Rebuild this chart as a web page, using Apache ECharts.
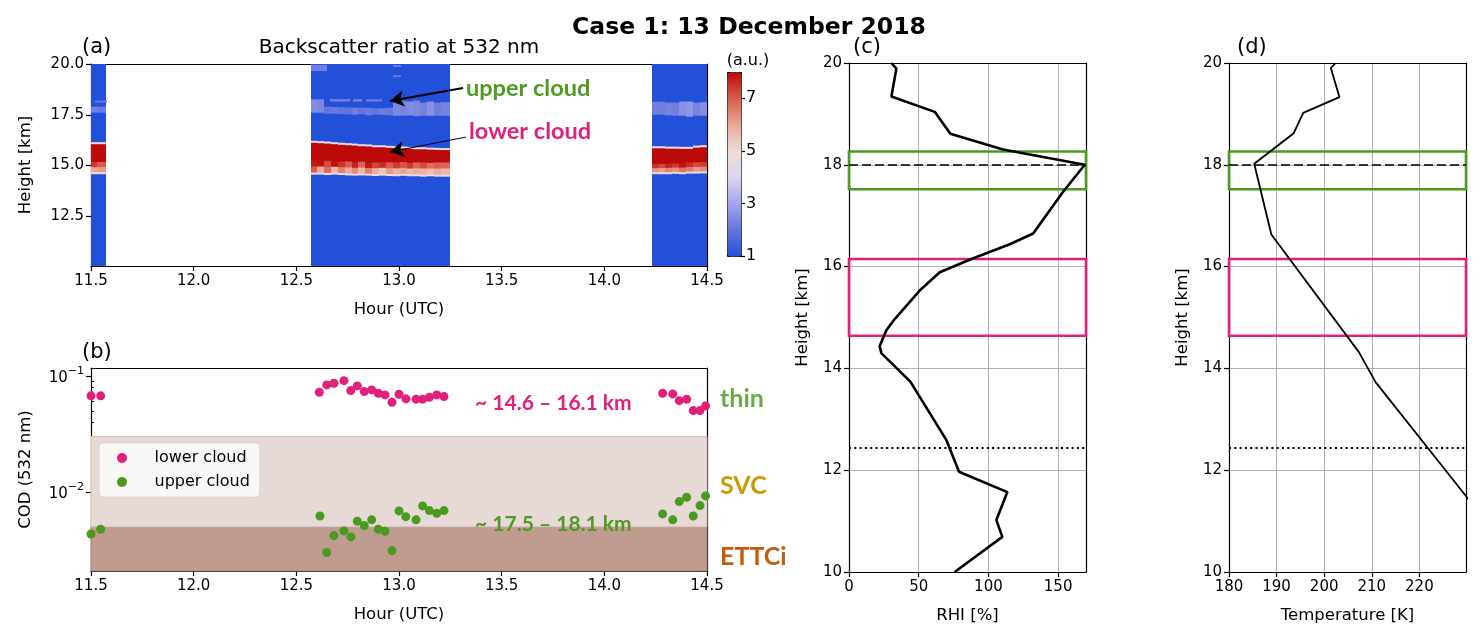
<!DOCTYPE html>
<html>
<head>
<meta charset="utf-8">
<title>Case 1: 13 December 2018</title>
<script src="https://cdn.jsdelivr.net/npm/echarts@6.0.0/dist/echarts.min.js"></script>
<style>
  html, body { margin: 0; padding: 0; background: #fff; }
  #chart { width: 1483px; height: 640px; }
</style>
</head>
<body>
<div id="chart"></div>
<script>
// ---------- (a) lidar backscatter ratio, one 2-min column per entry ----------
const lidarTimes = [
  11.500, 11.533,
  12.572, 12.605, 12.639, 12.672, 12.705, 12.739, 12.772, 12.805, 12.839, 12.872,
  12.905, 12.939, 12.972, 13.005, 13.039, 13.072, 13.105, 13.139, 13.172, 13.205,
  14.233, 14.267, 14.300, 14.333, 14.367, 14.400, 14.433, 14.467
];
const lowerTop = [
  16.15, 16.15,
  16.22, 16.2, 16.18, 16.15, 16.12, 16.1, 16.08, 16.05, 16.04, 16.0,
  16.0, 15.97, 15.95, 15.94, 15.92, 15.9, 15.9, 15.88, 15.87, 15.86,
  15.95, 15.95, 15.93, 15.93, 15.92, 15.92, 15.98, 16.0
];
const lowerCoreBase = [
  15.22, 15.22,
  15.3, 15.3, 15.28, 15.27, 15.25, 15.25, 15.22, 15.24, 15.2, 15.2,
  15.22, 15.2, 15.2, 15.22, 15.18, 15.2, 15.2, 15.18, 15.2, 15.2,
  15.12, 15.12, 15.15, 15.15, 15.18, 15.2, 15.2, 15.22
];
const lowerBase = [
  14.62, 14.62,
  14.6, 14.6, 14.58, 14.6, 14.58, 14.56, 14.55, 14.56, 14.55, 14.53,
  14.55, 14.53, 14.52, 14.54, 14.52, 14.52, 14.5, 14.52, 14.5, 14.5,
  14.62, 14.62, 14.62, 14.64, 14.62, 14.65, 14.65, 14.66
];
const lowerTailUpper = [
  7.4, 7.0,
  7.8, 7.9, 7.2, 7.9, 7.5, 7.0, 7.7, 6.9, 7.8, 7.3,
  7.6, 7.0, 7.4, 7.1, 7.4, 6.9, 7.2, 6.8, 7.0, 6.9,
  7.5, 7.2, 7.7, 7.4, 7.9, 7.6, 7.2, 7.4
];
const lowerTailLower = [
  6.0, 6.2,
  7.0, 6.0, 6.8, 5.8, 6.5, 6.0, 6.4, 5.7, 6.6, 5.9,
  5.5, 6.2, 5.8, 6.1, 5.7, 5.9, 5.8, 5.6, 6.0, 5.7,
  6.3, 6.1, 6.5, 6.3, 6.7, 6.6, 6.2, 6.4
];
const upperTop = [
  17.9, 17.9,
  18.26, 18.26, 17.9, 17.88, 17.88, 17.86, 17.85, 17.85, 17.84, 17.82,
  17.82, 17.85, 18.2, 18.18, 18.15, 18.2, 18.1, 18.15, 18.1, 18.12,
  18.14, 18.14, 18.1, 18.1, 18.15, 18.15, 18.1, 18.12
];
const upperBase = [
  17.65, 17.65,
  17.65, 17.65, 17.6, 17.6, 17.58, 17.57, 17.55, 17.58, 17.52, 17.55,
  17.55, 17.52, 17.5, 17.5, 17.52, 17.48, 17.5, 17.5, 17.5, 17.5,
  17.55, 17.55, 17.52, 17.5, 17.5, 17.45, 17.5, 17.5
];
const upperValue = [
  2.3, 2.1,
  2.5, 2.4, 2.0, 2.1, 2.0, 2.0, 2.2, 2.0, 2.1, 2.0,
  2.2, 2.1, 2.4, 2.3, 2.5, 2.4, 2.3, 2.6, 2.2, 2.3,
  2.2, 2.2, 2.3, 2.2, 2.6, 2.7, 2.3, 2.5
];
// small isolated returns: [start hour, end hour, base km, top km, ratio]
const streakPatches = [
  [11.52, 11.567, 18.15, 18.2, 2.1],
  [12.572, 12.639, 19.7, 19.95, 2.2],
  [12.664, 12.698, 18.2, 18.27, 2.3],
  [12.703, 12.747, 18.2, 18.27, 2.2],
  [12.776, 12.81, 18.2, 18.27, 2.3],
  [12.844, 12.908, 18.2, 18.26, 2.2],
  [12.975, 13.0, 19.9, 19.95, 2.1],
  [12.975, 13.0, 19.4, 19.45, 2.1]
];

// ---------- (b) cloud optical depth ----------
const lowerCodHours = [
  11.5, 11.547,
  12.612, 12.648, 12.683, 12.732, 12.765, 12.797, 12.831, 12.867, 12.899, 12.932,
  12.966, 13.0, 13.034, 13.083, 13.115, 13.148, 13.184, 13.219,
  14.284, 14.333, 14.365, 14.401, 14.433, 14.466, 14.493
];
const lowerCod = [
  0.0673, 0.0673,
  0.0723, 0.0836, 0.0865, 0.091, 0.0747, 0.082, 0.0733, 0.0757, 0.0709, 0.0686,
  0.0593, 0.0695, 0.0634, 0.063, 0.063, 0.0655, 0.0686, 0.0663,
  0.0709, 0.070, 0.0612, 0.063, 0.0502, 0.0502, 0.0551
];
const upperCodHours = [
  11.5, 11.547,
  12.615, 12.648, 12.683, 12.732, 12.766, 12.797, 12.831, 12.867, 12.899, 12.932,
  12.966, 13.0, 13.033, 13.083, 13.115, 13.148, 13.184, 13.219,
  14.284, 14.333, 14.365, 14.401, 14.433, 14.466, 14.493
];
const upperCod = [
  0.00434, 0.00476,
  0.0062, 0.0030, 0.0042, 0.00461, 0.00409, 0.00558, 0.00512, 0.00574, 0.00476, 0.00458,
  0.00312, 0.00686, 0.00612, 0.00574, 0.00757, 0.0069, 0.00655, 0.0069,
  0.00646, 0.00574, 0.00825, 0.0090, 0.0062, 0.00762, 0.00924
];
const codMin = 0.00208;
const codMax = 0.117;
const svcThreshold = 0.005;   // below: ETTCi
const thinThreshold = 0.03;   // below: SVC
const codMajorTicks = [0.01, 0.1];
const codMinorTicks = [0.003, 0.004, 0.005, 0.006, 0.007, 0.008, 0.009,
  0.02, 0.03, 0.04, 0.05, 0.06, 0.07, 0.08, 0.09];

// ---------- (c) RHI and (d) temperature profiles ----------
const rhiHeight = [20.0, 19.89, 19.34, 19.04, 18.61, 18.30, 18.0, 17.47, 16.65, 16.44,
  16.15, 15.89, 15.53, 14.97, 14.75, 14.44, 14.30, 13.74, 12.59, 11.97, 11.57, 11.02, 10.69, 10.0];
const rhiValue = [30.4, 34.0, 30.4, 61.5, 72.7, 110.5, 169.1, 153.6, 132.1, 115.3,
  87.8, 65.1, 50.7, 32.8, 26.8, 22.0, 23.2, 44.0, 69.9, 78.9, 113.6, 105.7, 110.0, 75.8];
const tempHeight = [20.0, 19.90, 19.33, 19.02, 18.62, 18.02, 16.63, 14.32, 13.73, 11.42];
const tempValue = [202.4, 201.4, 203.2, 195.6, 193.6, 185.3, 188.9, 207.3, 210.8, 230.4];
const coldPointHeight = 18.0;
const lrtHeight = 12.45;
const upperLayer = [17.52, 18.26];
const lowerLayer = [14.64, 16.15];

// ---------- colours ----------
const pink = '#e0207a';
const green = '#4b9a1f';
const ratioColors = ['#2350d8', '#6374de', '#a3a5e8', '#d8d6f0', '#f0dcd8', '#eca898', '#d85e4c', '#bc0a0a'];

const colWidth = 1 / 30;
const heatCells = [];
lidarTimes.forEach(function (t, i) {
  const t1 = t + colWidth;
  const tailMid = (lowerBase[i] + 0.1 + lowerCoreBase[i]) / 2;
  heatCells.push([t, t1, 10, 20, 1]);
  heatCells.push([t, t1, upperBase[i], upperTop[i], upperValue[i]]);
  heatCells.push([t, t1, lowerBase[i], lowerTop[i], 4.7]);
  heatCells.push([t, t1, lowerBase[i] + 0.1, tailMid, lowerTailLower[i]]);
  heatCells.push([t, t1, tailMid, lowerCoreBase[i], lowerTailUpper[i]]);
  heatCells.push([t, t1, lowerCoreBase[i], lowerTop[i] - 0.1, 8]);
});
streakPatches.forEach(function (p) { heatCells.push(p); });

const zip = (a, b) => a.map((v, i) => [v, b[i]]);

const tickFont = { color: '#000', fontSize: 15, fontFamily: 'DejaVu Sans' };
const nameFont = { color: '#000', fontSize: 16.5, fontFamily: 'DejaVu Sans' };
const black = { color: '#000', width: 1.2 };
const gridLine = { show: true, lineStyle: { color: '#b0b0b0', width: 1 } };

function spineX(gridIndex) {
  return { type: 'value', gridIndex: gridIndex, position: 'top', min: 0, max: 1,
    axisLine: { show: true, onZero: false, lineStyle: black },
    axisTick: { show: false }, axisLabel: { show: false }, splitLine: { show: false } };
}
function spineY(gridIndex) {
  return { type: 'value', gridIndex: gridIndex, position: 'right', min: 0, max: 1,
    axisLine: { show: true, onZero: false, lineStyle: black },
    axisTick: { show: false }, axisLabel: { show: false }, splitLine: { show: false } };
}
function hourAxis(gridIndex) {
  return { type: 'value', gridIndex: gridIndex, min: 11.5, max: 14.5, interval: 0.5,
    name: 'Hour (UTC)', nameLocation: 'middle', nameGap: 35, nameTextStyle: nameFont,
    axisLine: { show: true, onZero: false, lineStyle: black },
    axisTick: { show: true, length: 5, lineStyle: black },
    axisLabel: Object.assign({ margin: 8, formatter: v => v.toFixed(1) }, tickFont),
    splitLine: { show: false } };
}
function supLabel(v) {
  const e = Math.round(Math.log10(v));
  return '{b|10}{s|\u2212' + Math.abs(e) + '}';
}
function label(text, x, y, font, color, align) {
  return { type: 'text', z: 100, x: x, y: y,
    style: { text: text, fill: color || '#000', font: font, align: align || 'left', verticalAlign: 'middle' } };
}

const chart = echarts.init(document.getElementById('chart'));
chart.setOption({
  animation: false,
  textStyle: { fontFamily: 'DejaVu Sans' },
  title: {
    text: 'Case 1: 13 December 2018', left: 744, top: 11, textAlign: 'center',
    textStyle: { fontSize: 23.5, fontWeight: 'bold', color: '#000', fontFamily: 'DejaVu Sans' }
  },
  grid: [
    { left: 91, top: 64, width: 616, height: 202, outerBoundsMode: 'none' },
    { left: 91, top: 368, width: 616, height: 203, outerBoundsMode: 'none' },
    { left: 849, top: 63, width: 237, height: 509, outerBoundsMode: 'none' },
    { left: 1229, top: 63, width: 237, height: 509, outerBoundsMode: 'none' },
    { left: 727, top: 72, width: 14, height: 184, outerBoundsMode: 'none' }
  ],
  visualMap: {
    type: 'continuous', min: 1, max: 8, dimension: 4, seriesIndex: 0,
    calculable: false, hoverLink: false, text: null,
    left: 727, top: 72, itemWidth: 14, itemHeight: 184, padding: 0,
    borderColor: '#000', borderWidth: 1,
    inRange: { color: ratioColors }
  },
  legend: {
    data: ['lower cloud', 'upper cloud'], orient: 'vertical', left: 99, top: 443,
    icon: 'circle', itemWidth: 25, itemHeight: 10, itemGap: 8,
    padding: [7, 10, 7, 18], backgroundColor: 'rgba(255,255,255,0.8)',
    borderColor: '#d6d6d6', borderWidth: 1, borderRadius: 4,
    textStyle: { fontSize: 16, color: '#000', fontFamily: 'DejaVu Sans', padding: [0, 0, 0, 15] }
  },
  xAxis: [
    hourAxis(0),
    hourAxis(1),
    { type: 'value', gridIndex: 2, min: 0, max: 170, interval: 50,
      name: 'RHI [%]', nameLocation: 'middle', nameGap: 35, nameTextStyle: nameFont,
      axisLine: { show: true, onZero: false, lineStyle: black },
      axisTick: { show: true, length: 5, lineStyle: black, customValues: [0, 50, 100, 150] },
      axisLabel: Object.assign({ margin: 8, customValues: [0, 50, 100, 150] }, tickFont),
      splitLine: gridLine },
    { type: 'value', gridIndex: 3, min: 180, max: 229.8, interval: 10,
      name: 'Temperature [K]', nameLocation: 'middle', nameGap: 35, nameTextStyle: nameFont,
      axisLine: { show: true, onZero: false, lineStyle: black },
      axisTick: { show: true, length: 5, lineStyle: black, customValues: [180, 190, 200, 210, 220] },
      axisLabel: Object.assign({ margin: 8, customValues: [180, 190, 200, 210, 220] }, tickFont),
      splitLine: gridLine },
    { type: 'category', gridIndex: 4, data: ['bar'], show: false },
    spineX(0), spineX(1), spineX(2), spineX(3)
  ],
  yAxis: [
    { type: 'value', gridIndex: 0, min: 10.05, max: 20,
      name: 'Height [km]', nameLocation: 'middle', nameGap: 57, nameTextStyle: nameFont,
      axisLine: { show: true, onZero: false, lineStyle: black },
      axisTick: { show: true, length: 5, lineStyle: black, customValues: [12.5, 15, 17.5, 20] },
      axisLabel: Object.assign({ margin: 7, customValues: [12.5, 15, 17.5, 20], formatter: v => v.toFixed(1) }, tickFont),
      splitLine: { show: false } },
    { type: 'log', logBase: 10, gridIndex: 1, min: codMin, max: codMax,
      name: 'COD (532 nm)', nameLocation: 'middle', nameGap: 57, nameTextStyle: nameFont,
      axisLine: { show: true, onZero: false, lineStyle: black },
      axisTick: { show: true, length: 5, lineStyle: black, customValues: codMajorTicks },
      axisLabel: Object.assign({ margin: 7, customValues: codMajorTicks, formatter: supLabel,
        rich: {
          b: { fontSize: 15, fontFamily: 'DejaVu Sans', color: '#000', verticalAlign: 'bottom', lineHeight: 20 },
          s: { fontSize: 11, fontFamily: 'DejaVu Sans', color: '#000', verticalAlign: 'top', lineHeight: 20 }
        } }, tickFont),
      splitLine: { show: false } },
    { type: 'value', gridIndex: 2, min: 10, max: 20, interval: 2,
      name: 'Height [km]', nameLocation: 'middle', nameGap: 38, nameTextStyle: nameFont,
      axisLine: { show: true, onZero: false, lineStyle: black },
      axisTick: { show: true, length: 5, lineStyle: black },
      axisLabel: Object.assign({ margin: 7 }, tickFont),
      splitLine: gridLine },
    { type: 'value', gridIndex: 3, min: 10, max: 20, interval: 2,
      name: 'Height [km]', nameLocation: 'middle', nameGap: 38, nameTextStyle: nameFont,
      axisLine: { show: true, onZero: false, lineStyle: black },
      axisTick: { show: true, length: 5, lineStyle: black },
      axisLabel: Object.assign({ margin: 7 }, tickFont),
      splitLine: gridLine },
    { type: 'value', gridIndex: 4, position: 'right', min: 1, max: 8,
      axisLine: { show: false },
      axisTick: { show: true, length: 4, lineStyle: black, customValues: [1, 3, 5, 7] },
      axisLabel: Object.assign({ margin: 5, customValues: [1, 3, 5, 7] }, tickFont, { fontSize: 16 }),
      splitLine: { show: false } },
    spineY(0), spineY(1), spineY(2), spineY(3),
    { type: 'log', logBase: 10, gridIndex: 1, min: codMin, max: codMax,
      axisLine: { show: false },
      axisTick: { show: true, length: 3, lineStyle: { color: '#000', width: 1 }, customValues: codMinorTicks },
      axisLabel: { show: false }, splitLine: { show: false } }
  ],
  series: [
    {
      type: 'custom', name: 'backscatter ratio', xAxisIndex: 0, yAxisIndex: 0, clip: true,
      data: heatCells, encode: { x: [0, 1], y: [2, 3] },
      renderItem: function (params, api) {
        const p0 = api.coord([api.value(0), api.value(3)]);
        const p1 = api.coord([api.value(1), api.value(2)]);
        return {
          type: 'rect',
          shape: { x: Math.floor(p0[0]), y: p0[1], width: Math.ceil(p1[0] - p0[0]) + 2, height: p1[1] - p0[1] + 1 },
          style: { fill: api.visual('color') }
        };
      },
      markLine: {
        silent: true, symbol: ['none', 'arrow'], symbolSize: [12, 14], label: { show: false },
        data: [
          [{ coord: [13.312, 18.82], lineStyle: { color: '#000', width: 2, type: 'solid' } }, { coord: [12.956, 18.18] }],
          [{ coord: [13.326, 16.40], lineStyle: { color: '#000', width: 1, type: 'solid' } }, { coord: [12.956, 15.67] }]
        ]
      }
    },
    {
      type: 'scatter', name: 'lower cloud', xAxisIndex: 1, yAxisIndex: 1,
      symbolSize: 9, itemStyle: { color: pink, opacity: 1 },
      data: zip(lowerCodHours, lowerCod),
      markArea: {
        silent: true,
        data: [
          [{ yAxis: codMin, itemStyle: { color: '#bf9c8f', borderColor: '#a98375', borderWidth: 1 } }, { yAxis: svcThreshold }],
          [{ yAxis: svcThreshold, itemStyle: { color: '#e7d9d5', borderColor: '#d6c2ba', borderWidth: 1 } }, { yAxis: thinThreshold }]
        ]
      }
    },
    {
      type: 'scatter', name: 'upper cloud', xAxisIndex: 1, yAxisIndex: 1,
      symbolSize: 9, itemStyle: { color: green, opacity: 1 },
      data: zip(upperCodHours, upperCod)
    },
    {
      type: 'line', name: 'RHI', xAxisIndex: 2, yAxisIndex: 2, showSymbol: false,
      lineStyle: { color: '#000', width: 2.6 },
      data: zip(rhiValue, rhiHeight),
      markLine: {
        silent: true, symbol: 'none', label: { show: false },
        data: [
          { yAxis: coldPointHeight, lineStyle: { color: '#000', width: 1.7, type: [9, 4] } },
          { yAxis: lrtHeight, lineStyle: { color: '#000', width: 2, type: [2, 3.3] } }
        ]
      },
      markArea: {
        silent: true, itemStyle: { color: 'rgba(0,0,0,0)', borderWidth: 2.6 },
        data: [
          [{ yAxis: upperLayer[0], itemStyle: { borderColor: green } }, { yAxis: upperLayer[1] }],
          [{ yAxis: lowerLayer[0], itemStyle: { borderColor: pink } }, { yAxis: lowerLayer[1] }]
        ]
      }
    },
    {
      type: 'line', name: 'Temperature', xAxisIndex: 3, yAxisIndex: 3, showSymbol: false,
      lineStyle: { color: '#000', width: 1.8 },
      data: zip(tempValue, tempHeight),
      markLine: {
        silent: true, symbol: 'none', label: { show: false },
        data: [
          { yAxis: coldPointHeight, lineStyle: { color: '#000', width: 1.7, type: [9, 4] } },
          { yAxis: lrtHeight, lineStyle: { color: '#000', width: 2, type: [2, 3.3] } }
        ]
      },
      markArea: {
        silent: true, itemStyle: { color: 'rgba(0,0,0,0)', borderWidth: 2.6 },
        data: [
          [{ yAxis: upperLayer[0], itemStyle: { borderColor: green } }, { yAxis: upperLayer[1] }],
          [{ yAxis: lowerLayer[0], itemStyle: { borderColor: pink } }, { yAxis: lowerLayer[1] }]
        ]
      }
    },
    { type: 'line', name: 'colorbar', xAxisIndex: 4, yAxisIndex: 4, data: [] }
  ],
  graphic: {
    elements: [
      label('(a)', 82, 48, '21px "DejaVu Sans"'),
      label('Backscatter ratio at 532 nm', 399, 48, '20px "DejaVu Sans"', '#000', 'center'),
      label('(a.u.)', 748, 61, '16px "DejaVu Sans"', '#000', 'center'),
      label('upper cloud', 466, 88, 'bold 23.5px Lato', '#4f9a23'),
      label('lower cloud', 469, 131, 'bold 23.5px Lato', pink),
      label('(b)', 82, 353, '21px "DejaVu Sans"'),
      label('~ 14.6 \u2013 16.1 km', 475, 403, 'bold 21px Lato', pink),
      label('~ 17.5 \u2013 18.1 km', 475, 524, 'bold 21px Lato', '#4f9a23'),
      label('thin', 720, 399, 'bold 25px Lato', '#6aab46'),
      label('SVC', 720, 486, 'bold 25px Lato', '#c99a06'),
      label('ETTCi', 720, 557, 'bold 25px Lato', '#c55a11'),
      label('(c)', 853, 48, '21px "DejaVu Sans"'),
      label('(d)', 1237, 48, '21px "DejaVu Sans"')
    ]
  }
});
</script>
</body>
</html>
